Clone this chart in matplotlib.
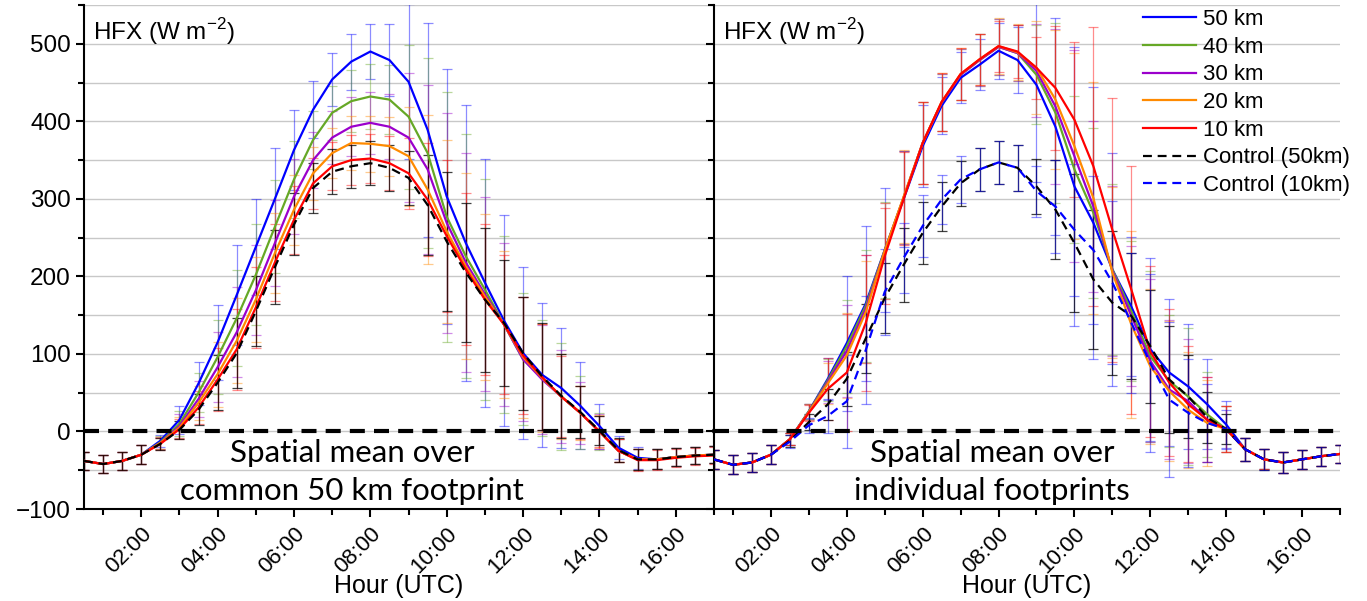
import numpy as np
import matplotlib
matplotlib.use("Agg")
import matplotlib.pyplot as plt
from matplotlib.ticker import MultipleLocator, FixedLocator

plt.rcParams['font.family'] = ['Liberation Sans', 'DejaVu Sans']

# half-hourly output times (hours UTC)
hours = [0.5, 1.0, 1.5, 2.0, 2.5, 3.0, 3.5, 4.0, 4.5, 5.0, 5.5, 6.0, 6.5, 7.0, 7.5, 8.0, 8.5,
         9.0, 9.5, 10.0, 10.5, 11.0, 11.5, 12.0, 12.5, 13.0, 13.5, 14.0, 14.5, 15.0, 15.5, 16.0, 16.5, 17.0]

# ---- left panel: common 50 km footprint ----
l_50 = [-38, -42, -38, -30, -12, 15, 62, 115, 176, 238, 300, 363, 415, 454, 477, 490, 479, 451, 389, 303,
        243, 192, 143, 101, 73, 56, 33, 7, -21, -34, -36, -33, -31, -30]
l_40 = [-38, -42, -38, -30, -14, 10, 50, 96, 146, 202, 264, 325, 376, 411, 426, 432, 428, 406, 359, 277,
        226, 183, 138, 93, 69, 45, 24, 0, -25, -36, -36, -33, -31, -30]
l_30 = [-38, -42, -38, -30, -15, 7, 42, 83, 128, 182, 243, 303, 350, 379, 393, 398, 393, 379, 338, 269,
        218, 177, 138, 93, 67, 45, 24, 0, -25, -36, -36, -33, -31, -30]
l_20 = [-38, -42, -38, -30, -15, 5, 37, 74, 117, 170, 230, 286, 333, 359, 372, 371, 368, 355, 312, 258,
        213, 174, 138, 96, 69, 45, 24, 0, -25, -36, -36, -33, -31, -30]
l_10 = [-38, -42, -38, -30, -16, 3, 31, 67, 106, 160, 218, 273, 320, 342, 350, 352, 346, 333, 299, 252,
        209, 170, 138, 98, 70, 45, 24, 0, -25, -37, -37, -34, -32, -31]
l_c50 = [-38, -42, -38, -30, -16, 2, 28, 63, 101, 155, 212, 267, 314, 335, 342, 346, 340, 327, 292, 245,
         205, 170, 140, 101, 71, 46, 25, 1, -24, -36, -36, -33, -31, -30]

l_50_sd = [12, 12, 12, 12, 8, 18, 28, 48, 65, 62, 65, 52, 37, 34, 36, 36, 46, 100, 138, 165,
           178, 160, 136, 111, 93, 77, 56, 29, 15, 14, 13, 12, 11, 11]
l_40_sd = [12, 12, 12, 12, 8, 16, 25, 48, 62, 65, 60, 50, 37, 35, 40, 42, 44, 93, 123, 161,
           157, 143, 114, 85, 75, 69, 47, 24, 15, 14, 13, 12, 11, 11]
l_30_sd = [12, 12, 12, 12, 8, 15, 23, 45, 58, 58, 55, 48, 36, 34, 38, 40, 42, 83, 109, 142,
           141, 125, 105, 80, 70, 60, 40, 22, 15, 14, 13, 12, 11, 11]
l_20_sd = [12, 12, 12, 12, 8, 14, 22, 42, 55, 55, 52, 45, 34, 32, 35, 36, 38, 64, 96, 118,
           120, 107, 95, 78, 70, 55, 35, 21, 15, 14, 13, 12, 11, 11]
l_10_sd = [12, 12, 12, 12, 8, 13, 21, 40, 52, 52, 50, 44, 33, 31, 32, 32, 35, 46, 73, 98,
           98, 97, 90, 76, 68, 52, 34, 20, 15, 14, 13, 12, 11, 11]
l_c50_sd = [12, 12, 12, 12, 8, 12, 20, 35, 45, 45, 48, 40, 32, 29, 28, 28, 30, 35, 64, 89,
            90, 93, 81, 73, 69, 54, 33, 19, 15, 14, 13, 12, 11, 11]

# ---- right panel: individual footprints ----
r_50 = [-36, -43, -40, -30, -10, 26, 68, 114, 165, 234, 300, 368, 420, 456, 473, 491, 479, 447, 393, 316,
        269, 209, 161, 106, 76, 58, 35, 9, -23, -36, -40, -36, -32, -29]
r_40 = [-36, -43, -40, -30, -10, 26, 66, 110, 162, 234, 302, 372, 424, 460, 479, 496, 488, 460, 411, 338,
        282, 209, 155, 97, 65, 45, 22, 3, -23, -36, -40, -36, -32, -29]
r_30 = [-36, -43, -40, -30, -10, 25, 64, 104, 158, 233, 302, 372, 424, 460, 479, 496, 488, 465, 419, 355,
        290, 207, 149, 91, 54, 39, 15, 3, -23, -36, -40, -36, -32, -29]
r_20 = [-36, -43, -40, -30, -10, 25, 62, 98, 154, 233, 303, 372, 425, 461, 480, 497, 489, 469, 428, 368,
        301, 205, 138, 84, 52, 28, 11, 3, -23, -36, -40, -36, -32, -29]
r_10 = [-36, -43, -40, -30, -10, 24, 55, 76, 140, 226, 300, 372, 425, 461, 480, 497, 490, 469, 443, 402,
        342, 260, 183, 103, 63, 35, 15, 3, -23, -36, -40, -36, -32, -29]
r_c50 = [-36, -43, -40, -30, -12, 12, 35, 68, 120, 172, 215, 256, 290, 320, 338, 347, 340, 316, 286, 243,
         196, 166, 149, 110, 67, 45, 18, 3, -23, -36, -40, -36, -32, -29]
r_c10 = [-36, -43, -40, -30, -13, 8, 20, 39, 105, 180, 224, 265, 299, 325, 338, 347, 340, 310, 290, 260,
         234, 192, 140, 88, 41, 24, 11, 3, -23, -36, -40, -36, -32, -29]

r_50_sd = [12, 12, 12, 12, 8, 10, 27, 87, 100, 80, 62, 53, 37, 33, 33, 36, 42, 125, 140, 180,
           175, 150, 90, 118, 95, 80, 58, 30, 15, 13, 13, 12, 12, 12]
r_40_sd = [12, 12, 12, 12, 8, 10, 27, 60, 72, 62, 60, 53, 37, 33, 33, 36, 36, 64, 116, 95,
           110, 110, 90, 110, 85, 88, 55, 30, 15, 13, 13, 12, 12, 12]
r_30_sd = [12, 12, 12, 12, 8, 10, 27, 59, 70, 62, 60, 53, 37, 33, 33, 36, 36, 60, 100, 137,
           110, 110, 90, 105, 90, 80, 55, 30, 15, 13, 13, 12, 12, 12]
r_20_sd = [12, 12, 12, 12, 8, 10, 26, 55, 66, 62, 60, 53, 37, 33, 33, 36, 36, 60, 90, 120,
           150, 110, 120, 100, 90, 75, 55, 30, 15, 13, 13, 12, 12, 12]
r_10_sd = [12, 12, 12, 12, 8, 10, 40, 75, 88, 62, 60, 53, 37, 33, 33, 33, 34, 40, 80, 100,
           180, 170, 160, 110, 95, 75, 55, 30, 15, 13, 13, 12, 12, 12]
r_c50_sd = [12, 12, 12, 12, 8, 10, 20, 35, 45, 45, 48, 40, 32, 29, 28, 28, 30, 35, 64, 89,
            90, 93, 81, 73, 69, 54, 33, 19, 15, 14, 13, 12, 12, 12]
r_c10_sd = [12, 12, 12, 12, 8, 10, 22, 60, 70, 55, 45, 40, 32, 30, 28, 28, 30, 33, 60, 85,
            95, 105, 90, 115, 100, 70, 50, 25, 15, 14, 13, 12, 12, 12]

labels = ["50 km", "40 km", "30 km", "20 km", "10 km", "Control (50km)", "Control (10km)"]
colors = ["#0000ff", "#66a826", "#9b00cc", "#ff8a00", "#ff0000", "#000000", "#0000ff"]

hour_ticks = [2, 4, 6, 8, 10, 12, 14, 16]
hour_labels = ["02:00", "04:00", "06:00", "08:00", "10:00", "12:00", "14:00", "16:00"]


def draw_panel(ax, series, sds, styles):
    t = np.array(hours)
    # error bars first (light), then lines
    for (m, s, c) in zip(series, sds, styles):
        a = 0.75 if c[0] == "#000000" else 0.45
        ax.errorbar(t, m, yerr=s, fmt='none', ecolor=c[0], elinewidth=0.9,
                    capsize=3.8, capthick=0.9, alpha=a, zorder=2)
    for (m, c, lab) in zip(series, styles, labels):
        if c[1] == '-':
            ax.plot(t, m, color=c[0], lw=1.6, label=lab, zorder=4, solid_joinstyle='round')
        else:
            ax.plot(t, m, color=c[0], lw=1.6, dashes=(4, 2.6), label=lab, zorder=4)
    ax.axhline(0, color='k', lw=3, dashes=(3.6, 2.2), zorder=5)

    ax.set_xlim(0.5, 17.0)
    ax.set_ylim(-100, 550)
    ax.xaxis.set_major_locator(FixedLocator(hour_ticks))
    ax.xaxis.set_minor_locator(MultipleLocator(1))
    ax.set_xticklabels(hour_labels, rotation=45, ha='right', rotation_mode='anchor', fontsize=16)
    ax.yaxis.set_major_locator(MultipleLocator(100))
    ax.yaxis.set_minor_locator(MultipleLocator(50))
    ax.grid(axis='y', which='both', color='#c8c8c8', lw=1, zorder=0)
    ax.set_axisbelow(True)
    for side in ['top', 'right']:
        ax.spines[side].set_visible(False)
    for side in ['left', 'bottom']:
        ax.spines[side].set_linewidth(1.5)
    ax.tick_params(axis='both', which='major', length=6, width=1.5, labelsize=17.5)
    ax.tick_params(axis='both', which='minor', length=4, width=1.5)
    ax.tick_params(axis='x', labelsize=16, pad=4)
    ax.set_xlabel("Hour (UTC)", fontsize=18, labelpad=-2)
    ax.text(0.014, 0.978, "HFX (W m$^{\\mathregular{-2}}$)", transform=ax.transAxes,
            fontsize=17.5, va='top', ha='left')


fig = plt.figure(figsize=(13.67, 6.01), dpi=100)
ax1 = fig.add_axes([84 / 1367, 1 - 509 / 601, 630 / 1367, 504 / 601])
ax2 = fig.add_axes([714 / 1367, 1 - 509 / 601, 626 / 1367, 504 / 601])

left_styles = [(colors[0], '-'), (colors[1], '-'), (colors[2], '-'), (colors[3], '-'),
               (colors[4], '-'), (colors[5], '--')]
right_styles = left_styles + [(colors[6], '--')]

draw_panel(ax1, [l_50, l_40, l_30, l_20, l_10, l_c50],
           [l_50_sd, l_40_sd, l_30_sd, l_20_sd, l_10_sd, l_c50_sd], left_styles)
draw_panel(ax2, [r_50, r_40, r_30, r_20, r_10, r_c50, r_c10],
           [r_50_sd, r_40_sd, r_30_sd, r_20_sd, r_10_sd, r_c50_sd, r_c10_sd], right_styles)

ax1.set_yticks([-100, 0, 100, 200, 300, 400, 500])
ax1.set_yticklabels(["\u2212100", "0", "100", "200", "300", "400", "500"])
ax2.tick_params(axis='y', labelleft=False)

ax1.text(0.425, 0.073, "Spatial mean over\ncommon 50 km footprint", transform=ax1.transAxes,
         ha='center', va='center', fontsize=22.5, family=['Lato', 'DejaVu Sans'], linespacing=1.42)
ax2.text(0.444, 0.073, "Spatial mean over\nindividual footprints", transform=ax2.transAxes,
         ha='center', va='center', fontsize=22.5, family=['Lato', 'DejaVu Sans'], linespacing=1.42)

leg = ax2.legend(loc='upper left', bbox_to_anchor=(1143 / 1367, 1 - 9 / 601),
                 bbox_transform=fig.transFigure, frameon=False, fontsize=16,
                 handlelength=2.4, handletextpad=0.3, labelspacing=0.30,
                 borderpad=0, borderaxespad=0)

fig.savefig("out.png", dpi=100)
